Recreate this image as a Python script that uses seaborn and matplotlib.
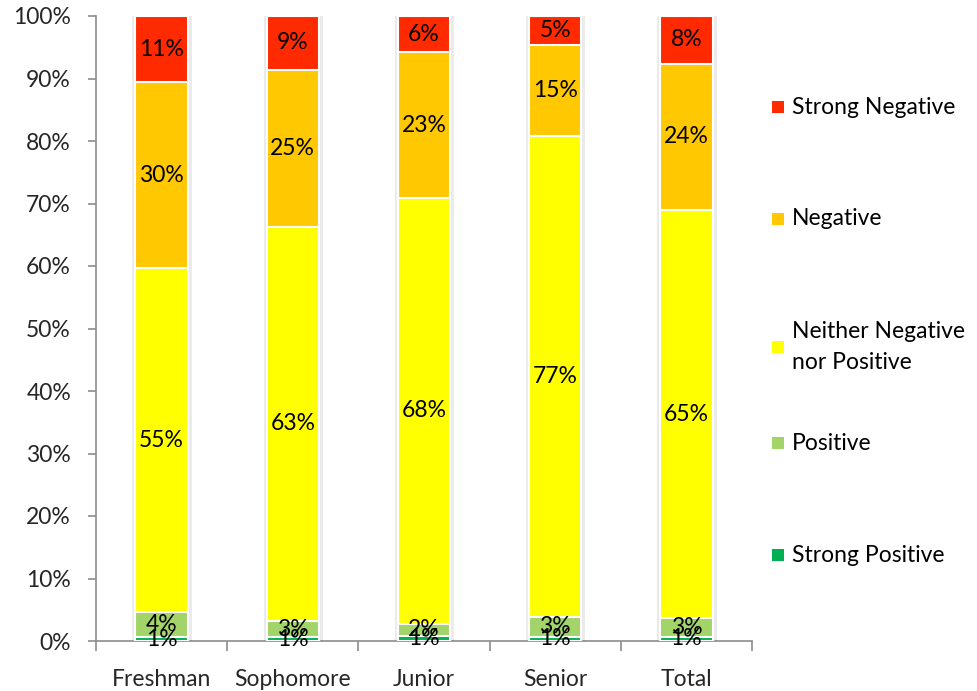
import matplotlib
matplotlib.use("Agg")
import matplotlib.pyplot as plt
import matplotlib.patheffects as pe
from matplotlib.patches import Rectangle
from matplotlib.ticker import FixedLocator, PercentFormatter
import numpy as np
import seaborn as sns

# Survey responses by class year (percent of respondents)
classes = ["Freshman", "Sophomore", "Junior", "Senior", "Total"]
strong_positive = [0.6, 0.6, 0.8, 0.7, 0.7]
positive = [4.0, 2.6, 2.0, 3.1, 3.0]
neither = [55.1, 63.1, 68.1, 77.0, 65.2]
negative = [29.7, 25.1, 23.3, 14.6, 23.5]
strong_negative = [10.6, 8.6, 5.8, 4.6, 7.6]

series_names = ["Strong Positive", "Positive", "Neither Negative\nnor Positive",
                "Negative", "Strong Negative"]
series_values = [strong_positive, positive, neither, negative, strong_negative]
series_colors = ["#00B050", "#A2D46A", "#FFFF00", "#FFC800", "#FF2A00"]

FS = 16.5
W, H = 978, 691

sns.set_theme(style="white")
plt.rcParams["font.family"] = ["Lato", "DejaVu Sans"]

fig = plt.figure(figsize=(W / 100, H / 100), dpi=100)
ax = fig.add_axes([96 / W, 1 - 641 / H, (752 - 96) / W, (641 - 16) / H])

values = np.array(series_values)
cum = np.cumsum(values, axis=0)

# Draw stacked layers from the top down so each lower layer overlays the one above
for i in range(len(series_names) - 1, -1, -1):
    sns.barplot(x=classes, y=cum[i], color=series_colors[i], width=0.4,
                edgecolor="white", linewidth=1.5, saturation=1,
                ax=ax, zorder=3)

# soft glow around the full-height bars
n = len(classes)
for patch in ax.patches[:n]:
    patch.set_path_effects([pe.withStroke(linewidth=5, foreground="#000000", alpha=0.08),
                            pe.Normal()])

# Value labels centred in each segment
for i in range(len(series_names)):
    for j in range(n):
        v = values[i, j]
        ax.text(j, cum[i, j] - v / 2, f"{v:.0f}%", ha="center", va="center",
                fontsize=FS, color="black", zorder=5)

ax.set_ylim(0, 100)
ax.set_xlim(-0.5, n - 0.5)
ax.yaxis.set_major_locator(FixedLocator(np.arange(0, 101, 10)))
ax.yaxis.set_major_formatter(PercentFormatter(decimals=0))
ax.xaxis.set_minor_locator(FixedLocator(np.arange(-0.5, n, 1.0)))

for side in ["top", "right"]:
    ax.spines[side].set_visible(False)
for side in ["left", "bottom"]:
    ax.spines[side].set_color("#8C8C8C")
    ax.spines[side].set_linewidth(1.2)

ax.tick_params(axis="y", which="major", direction="out", length=6, width=1.2,
               color="#8C8C8C", labelsize=FS, pad=12, left=True)
ax.tick_params(axis="x", which="major", length=0, labelsize=FS, pad=20)
ax.tick_params(axis="x", which="minor", direction="out", length=7, width=1.2,
               color="#8C8C8C", bottom=True)
ax.set_xlabel("")
ax.set_ylabel("")

# Legend on the right, top to bottom from Strong Negative to Strong Positive
legend_rows = [107, 219, 347, 443, 555]
for name, color, yc in zip(series_names[::-1], series_colors[::-1], legend_rows):
    fig.add_artist(Rectangle((772 / W, 1 - (yc + 6) / H), 12 / W, 12 / H,
                             transform=fig.transFigure, facecolor=color,
                             edgecolor="none"))
    fig.text(792 / W, 1 - yc / H, name, ha="left", va="center",
             fontsize=FS, linespacing=1.55, color="black")

fig.savefig("out.png", dpi=100)
